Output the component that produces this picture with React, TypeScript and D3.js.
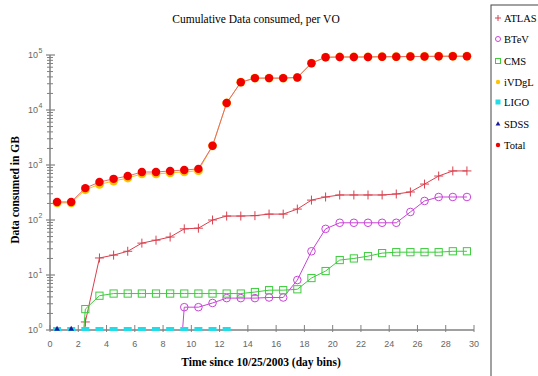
import { useEffect, useRef } from 'react';
import * as d3 from 'd3';

// day bins (x) and cumulative GB per VO; null = no value in that bin
const days = [
  0.5, 1.5, 2.5, 3.5, 4.5, 5.5, 6.5, 7.5, 8.5, 9.5, 10.5, 11.5, 12.5, 13.5, 14.5,
  15.5, 16.5, 17.5, 18.5, 19.5, 20.5, 21.5, 22.5, 23.5, 24.5, 25.5, 26.5, 27.5, 28.5, 29.5,
];
const atlas = [
  null, 0.001, 1.4, 20.4, 23, 27, 38, 43, 49, 69, 71, 100, 118, 118, 120,
  128, 128, 158, 230, 262, 285, 285, 285, 285, 297, 323, 450, 630, 780, 780,
];
const btev = [
  null, null, null, null, null, null, null, null, 0.001, 2.6, 2.6, 3.1, 3.8, 3.8, 3.8,
  3.9, 3.9, 8.1, 27, 69, 89, 89, 89, 89, 89, 140, 222, 262, 262, 262,
];
const cms = [
  null, 0.001, 2.4, 4.2, 4.6, 4.6, 4.6, 4.6, 4.6, 4.6, 4.6, 4.6, 4.6, 4.6, 4.9,
  5.3, 5.3, 5.5, 8.8, 11.8, 18.7, 20, 22, 25, 26, 26, 26, 26, 27, 27,
];
const ivdgl = [
  205, 205, 355, 445, 510, 580, 690, 690, 720, 750, 790, 2230, 13400, 32000, 38000,
  38000, 38000, 39000, 71000, 91000, 92000, 92000, 92000, 93000, 93000, 94000, 94000, 95000, 95000, 95000,
];
const ligo = [
  1, 1, 1, 1, 1, 1, 1, 1, 1, 1, 1, 1, 1, null, null,
  null, null, null, null, null, null, null, null, null, null, null, null, null, null, null,
];
const sdss = [
  1, 1, null, null, null, null, null, null, null, null, null, null, null, null, null,
  null, null, null, null, null, null, null, null, null, null, null, null, null, null, null,
];
const total = [
  213, 213, 380, 490, 560, 630, 745, 745, 780, 810, 850, 2230, 13400, 32000, 38000,
  38000, 38000, 39000, 71000, 91000, 92000, 92000, 92000, 93000, 93000, 94000, 94000, 95000, 95000, 95000,
];
const xTicks = [0, 2, 4, 6, 8, 10, 12, 14, 16, 18, 20, 22, 24, 26, 28, 30];
const legendNames = ['ATLAS', 'BTeV', 'CMS', 'iVDgL', 'LIGO', 'SDSS', 'Total'];

type Pt = { x: number; v: number | null };

export default function App() {
  const ref = useRef<SVGSVGElement>(null);

  useEffect(() => {
    if (!ref.current) return;
    const svg = d3.select(ref.current);
    svg.selectAll('*').remove();

    const x = d3.scaleLinear().domain([0, 30]).range([50, 474]);
    const y = d3.scaleLog().domain([1, 1e5]).range([330, 55]);
    const axisColor = '#808080';

    svg.append('rect').attr('width', 538).attr('height', 376).attr('fill', 'white');

    svg.append('defs').append('clipPath').attr('id', 'plot')
      .append('rect').attr('x', 40).attr('y', 40).attr('width', 445).attr('height', 291);

    // title + axis labels
    svg.append('text')
      .attr('x', 256).attr('y', 23).attr('text-anchor', 'middle')
      .style('font-family', '"Liberation Serif", serif').style('font-size', '11.5px')
      .text('Cumulative Data consumed, per VO');
    svg.append('text')
      .attr('x', 261).attr('y', 366).attr('text-anchor', 'middle')
      .style('font-family', '"Liberation Serif", serif').style('font-size', '11.5px')
      .style('font-weight', 'bold')
      .text('Time since 10/25/2003 (day bins)');
    svg.append('text')
      .attr('transform', 'translate(19,190) rotate(-90)').attr('text-anchor', 'middle')
      .style('font-family', '"Liberation Serif", serif').style('font-size', '11.5px')
      .style('font-weight', 'bold')
      .text('Data consumed in GB');

    // x axis
    const xa = svg.append('g');
    xa.append('line').attr('x1', 50).attr('x2', 474).attr('y1', 330).attr('y2', 330)
      .attr('stroke', axisColor).attr('stroke-width', 1.5);
    xTicks.forEach((t) => {
      xa.append('line').attr('x1', x(t)).attr('x2', x(t)).attr('y1', 325).attr('y2', 332)
        .attr('stroke', axisColor);
      xa.append('text').attr('x', x(t)).attr('y', 347).attr('text-anchor', 'middle')
        .style('font-family', '"Liberation Sans", Arial, sans-serif').style('font-size', '9px')
        .attr('fill', '#666').text(t);
    });

    // y axis (log)
    const ya = svg.append('g');
    ya.append('line').attr('x1', 50).attr('x2', 50).attr('y1', 55).attr('y2', 330)
      .attr('stroke', axisColor).attr('stroke-width', 1.5);
    for (let e = 0; e < 5; e++) {
      for (let m = 2; m <= 9; m++) {
        const yy = y(m * Math.pow(10, e));
        ya.append('line').attr('x1', 47).attr('x2', 53).attr('y1', yy).attr('y2', yy)
          .attr('stroke', axisColor);
      }
    }
    for (let e = 0; e <= 5; e++) {
      const yy = y(Math.pow(10, e));
      ya.append('line').attr('x1', 46).attr('x2', 55).attr('y1', yy).attr('y2', yy)
        .attr('stroke', axisColor).attr('stroke-width', 1.2);
      ya.append('text').attr('x', 38).attr('y', yy + 3).attr('text-anchor', 'end')
        .style('font-family', '"Liberation Sans", Arial, sans-serif').style('font-size', '9px')
        .attr('fill', '#666').text('10');
      ya.append('text').attr('x', 38.5).attr('y', yy - 2)
        .style('font-family', '"Liberation Sans", Arial, sans-serif').style('font-size', '7px')
        .attr('fill', '#666').text(e);
    }

    const plot = svg.append('g').attr('clip-path', 'url(#plot)');
    const toPts = (vals: (number | null)[]): Pt[] => days.map((d, i) => ({ x: d, v: vals[i] }));
    const line = d3.line<Pt>()
      .defined((d) => d.v !== null)
      .x((d) => x(d.x))
      .y((d) => y(d.v as number));

    const drawLine = (vals: (number | null)[], color: string, w = 1) => {
      plot.append('path').datum(toPts(vals)).attr('fill', 'none')
        .attr('stroke', color).attr('stroke-width', w).attr('d', line);
    };
    const shown = (vals: (number | null)[]) => toPts(vals).filter((d) => d.v !== null && d.v >= 1);

    // ATLAS
    drawLine(atlas, '#d8404e');
    shown(atlas).forEach((d) => {
      const cx = x(d.x), cy = y(d.v as number);
      plot.append('path').attr('d', `M${cx - 4.5},${cy}H${cx + 4.5}M${cx},${cy - 4.5}V${cy + 4.5}`)
        .attr('stroke', '#d8404e').attr('stroke-width', 1);
    });

    // BTeV
    drawLine(btev, '#c844d8');
    plot.selectAll('.btev').data(shown(btev)).enter().append('circle')
      .attr('cx', (d) => x(d.x)).attr('cy', (d) => y(d.v as number)).attr('r', 3.8)
      .attr('fill', 'none').attr('stroke', '#c844d8').attr('stroke-width', 1);

    // CMS
    drawLine(cms, '#3ccc3c');
    plot.selectAll('.cms').data(shown(cms)).enter().append('rect')
      .attr('x', (d) => x(d.x) - 3.6).attr('y', (d) => y(d.v as number) - 3.6)
      .attr('width', 7.2).attr('height', 7.2)
      .attr('fill', 'none').attr('stroke', '#3ccc3c').attr('stroke-width', 1);

    // iVDgL
    drawLine(ivdgl, '#f5c020');
    plot.selectAll('.ivdgl').data(shown(ivdgl)).enter().append('circle')
      .attr('cx', (d) => x(d.x)).attr('cy', (d) => y(d.v as number)).attr('r', 4.4)
      .attr('fill', '#ffc400');

    // LIGO
    plot.selectAll('.ligo').data(shown(ligo)).enter().append('rect')
      .attr('x', (d) => x(d.x) - 4).attr('y', (d) => y(d.v as number) - 3)
      .attr('width', 8).attr('height', 5).attr('fill', '#22dde8');

    // SDSS
    plot.selectAll('.sdss').data(shown(sdss)).enter().append('path')
      .attr('transform', (d) => `translate(${x(d.x)},${y(d.v as number) - 1})`)
      .attr('d', d3.symbol(d3.symbolTriangle, 14)()).attr('fill', '#1a1aa0');

    // Total
    drawLine(total, '#e86a6a');
    plot.selectAll('.total').data(shown(total)).enter().append('path')
      .attr('transform', (d) => `translate(${x(d.x)},${y(d.v as number)})`)
      .attr('d', d3.symbol(d3.symbolCircle, 56)()).attr('fill', '#f00000');

    // legend
    svg.append('rect').attr('x', 491).attr('y', 5).attr('width', 80).attr('height', 420)
      .attr('fill', 'white').attr('stroke', '#444').attr('stroke-width', 1);
    const legendY = [18, 39, 61, 82, 102, 124, 145];
    const lg = svg.append('g');
    legendNames.forEach((name, i) => {
      const ly = legendY[i];
      const mx = 498;
      if (name === 'ATLAS') {
        lg.append('path').attr('d', `M${mx - 3},${ly}H${mx + 3}M${mx},${ly - 3}V${ly + 3}`)
          .attr('stroke', '#d8404e');
      } else if (name === 'BTeV') {
        lg.append('circle').attr('cx', mx).attr('cy', ly).attr('r', 2.5)
          .attr('fill', 'none').attr('stroke', '#c844d8');
      } else if (name === 'CMS') {
        lg.append('rect').attr('x', mx - 2.5).attr('y', ly - 2.5).attr('width', 5).attr('height', 5)
          .attr('fill', 'none').attr('stroke', '#3ccc3c');
      } else if (name === 'iVDgL') {
        lg.append('circle').attr('cx', mx).attr('cy', ly).attr('r', 2.2).attr('fill', '#ffc400');
      } else if (name === 'LIGO') {
        lg.append('rect').attr('x', mx - 2.5).attr('y', ly - 2.5).attr('width', 5).attr('height', 5)
          .attr('fill', '#22dde8');
      } else if (name === 'SDSS') {
        lg.append('path').attr('transform', `translate(${mx},${ly})`)
          .attr('d', d3.symbol(d3.symbolTriangle, 10)()).attr('fill', '#1a1aa0');
      } else {
        lg.append('circle').attr('cx', mx).attr('cy', ly).attr('r', 2.2).attr('fill', '#f00000');
      }
      lg.append('text').attr('x', 504).attr('y', ly + 4)
        .style('font-family', '"Liberation Serif", serif').style('font-size', '10.5px')
        .text(name);
    });
  }, []);

  return (
    <svg
      ref={ref}
      width={538}
      height={376}
      viewBox="0 0 538 376"
      style={{ position: 'absolute', left: 0, top: 0, display: 'block' }}
    />
  );
}
